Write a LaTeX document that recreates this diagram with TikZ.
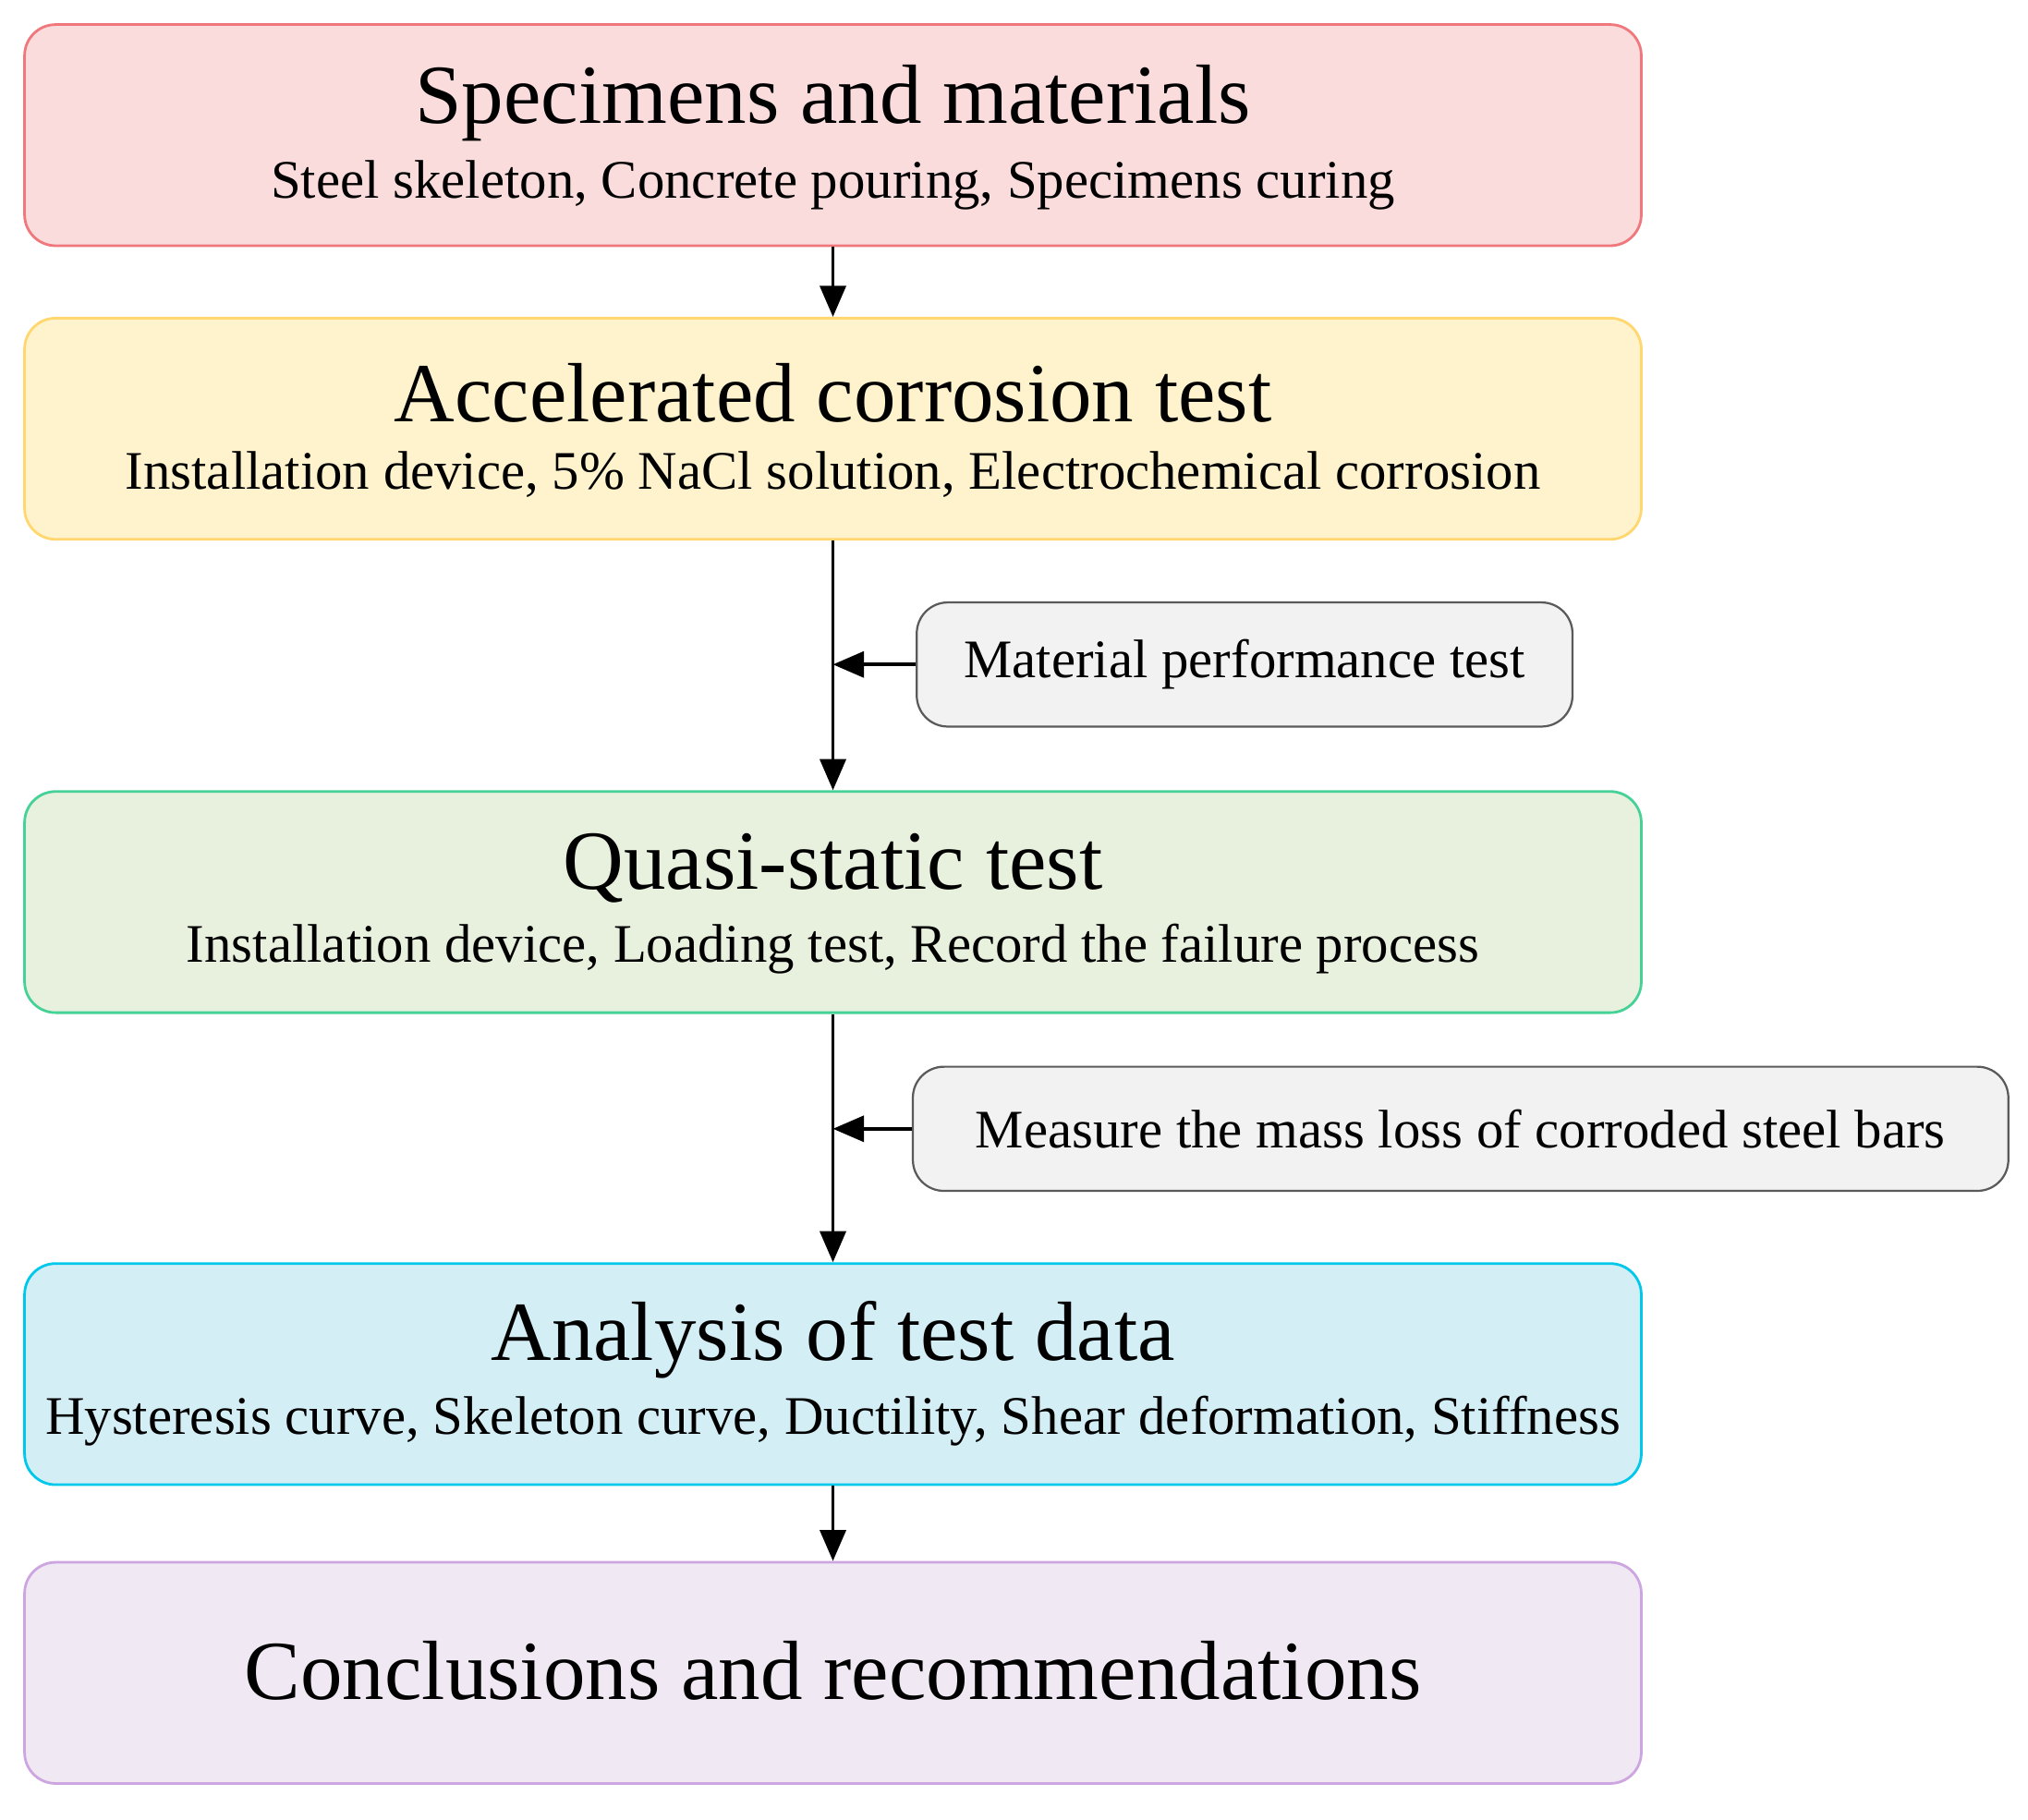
\documentclass[tikz,border=0pt]{standalone}
\usepackage{fontspec}
\setmainfont{Liberation Serif}
\usetikzlibrary{arrows.meta}
\definecolor{f1}{RGB}{250,220,220}\definecolor{b1}{RGB}{240,120,125}
\definecolor{f2}{RGB}{255,243,205}\definecolor{b2}{RGB}{255,215,110}
\definecolor{f3}{RGB}{232,240,222}\definecolor{b3}{RGB}{70,210,150}
\definecolor{f4}{RGB}{212,238,246}\definecolor{b4}{RGB}{0,200,235}
\definecolor{f5}{RGB}{240,232,242}\definecolor{b5}{RGB}{205,165,225}
\definecolor{fs}{RGB}{242,242,242}\definecolor{bs}{RGB}{90,90,90}
\begin{document}
\begin{tikzpicture}[x=1pt,y=-1pt,
 box/.style={draw=#1,line width=2pt,rounded corners=24pt,minimum width=1250pt,minimum height=171pt,anchor=north west,inner sep=0pt},
 side/.style={draw=bs,fill=fs,line width=1.6pt,rounded corners=24pt,minimum height=96pt,anchor=north west,inner sep=0pt},
 ttl/.style={font=\fontsize{65}{67}\selectfont},
 sub/.style={font=\fontsize{42}{44}\selectfont},
 arr/.style={line width=2.6pt,-{Triangle[length=24pt,width=20pt]}}]
\useasboundingbox (0,0) rectangle (1568,1407);
\node[box=b1,fill=f1] (n1) at (18,18) {};
\node[box=b2,fill=f2] (n2) at (18,245) {};
\node[box=b3,fill=f3] (n3) at (18,611) {};
\node[box=b4,fill=f4] (n4) at (18,976) {};
\node[box=b5,fill=f5] (n5) at (18,1207) {};
\node[ttl] (t1) at (644,80) {Specimens and materials};
\node[sub] (s1) at (644,143) {Steel skeleton, Concrete pouring, Specimens curing};
\node[ttl] (t2) at (644,304) {Accelerated corrosion test};
\node[sub] (s2) at (644,367) {Installation device, 5\% NaCl solution, Electrochemical corrosion};
\node[ttl] (t3) at (644,671) {Quasi-static test};
\node[sub] (s3) at (644,734) {Installation device, Loading test, Record the failure process};
\node[ttl] (t4) at (644,1036) {Analysis of test data};
\node[sub] (s4) at (644,1099) {Hysteresis curve, Skeleton curve, Ductility, Shear deformation, Stiffness};
\node[ttl] (t5) at (644,1292) {Conclusions and recommendations};
\node[side,minimum width=507pt,sub] (m1) at (708,465) {Material performance test};
\node[side,minimum width=847pt,sub] (m2) at (705,824) {Measure the mass loss of corroded steel bars};
\draw[arr] (n1.south -| 644,0) -- (n2.north -| 644,0);
\draw[arr] (n2.south -| 644,0) -- (n3.north -| 644,0);
\draw[arr] (n3.south -| 644,0) -- (n4.north -| 644,0);
\draw[arr] (n4.south -| 644,0) -- (n5.north -| 644,0);
\draw[arr] (m1.west) -- (m1.west -| 644,0);
\draw[arr] (m2.west) -- (m2.west -| 644,0);
\end{tikzpicture}
\end{document}
